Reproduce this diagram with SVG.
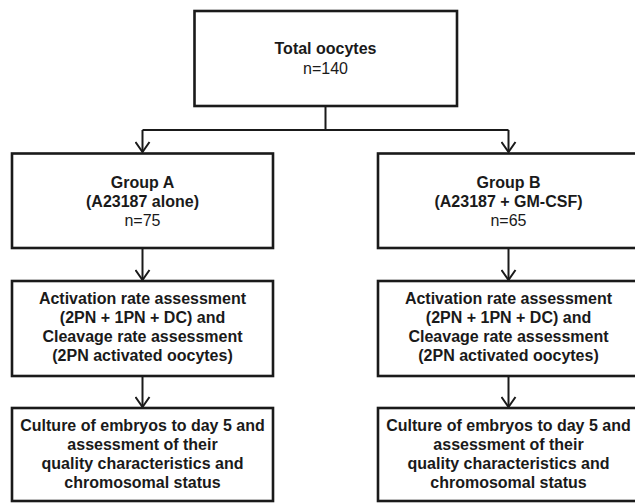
<svg xmlns="http://www.w3.org/2000/svg" width="635" height="503" viewBox="0 0 635 503">
<style>
.box{fill:#fff;stroke:#1a1a1a;stroke-width:2.6}
.t{font-family:"Liberation Sans",Arial,sans-serif;font-size:16px;font-weight:bold;fill:#1a1a1a;text-anchor:middle}
.n{font-weight:normal}
.c{fill:none;stroke:#1a1a1a;stroke-width:2}
</style>
<defs>
<marker id="arr" viewBox="0 0 12 16" refX="11" refY="8" markerWidth="12" markerHeight="16" markerUnits="userSpaceOnUse" orient="auto">
<path d="M1,1 L11,8 L1,15" fill="none" stroke="#1a1a1a" stroke-width="2"/>
</marker>
</defs>
<rect width="635" height="503" fill="#fff"/>
<g id="connectors">
<path class="c" d="M325.5,106 V130 M142.5,130 H508.5"/>
<path class="c" d="M142.5,130 V152" marker-end="url(#arr)"/>
<path class="c" d="M508.5,130 V152" marker-end="url(#arr)"/>
<path class="c" d="M142.5,248 V280" marker-end="url(#arr)"/>
<path class="c" d="M508.5,248 V280" marker-end="url(#arr)"/>
<path class="c" d="M142.5,376 V407" marker-end="url(#arr)"/>
<path class="c" d="M508.5,376 V407" marker-end="url(#arr)"/>
</g>
<g id="total">
<rect class="box" x="194.5" y="11" width="262.5" height="95"/>
<text class="t" x="325.5" y="54">Total oocytes</text>
<text class="t n" x="325.5" y="74">n=140</text>
</g>
<g id="groupA">
<rect class="box" x="12" y="153.5" width="261" height="94.5"/>
<text class="t" x="142.5" y="188">Group A</text>
<text class="t" x="142.5" y="207">(A23187 alone)</text>
<text class="t n" x="142.5" y="226">n=75</text>
</g>
<g id="groupB">
<rect class="box" x="378" y="153.5" width="261" height="94.5"/>
<text class="t" x="508.5" y="188">Group B</text>
<text class="t" x="508.5" y="207">(A23187 + GM-CSF)</text>
<text class="t n" x="508.5" y="226">n=65</text>
</g>
<g id="activationA">
<rect class="box" x="12" y="281" width="261" height="95"/>
<text class="t" x="142.5" y="304">Activation rate assessment</text>
<text class="t" x="142.5" y="323">(2PN + 1PN + DC) and</text>
<text class="t" x="142.5" y="342">Cleavage rate assessment</text>
<text class="t" x="142.5" y="361">(2PN activated oocytes)</text>
</g>
<g id="activationB">
<rect class="box" x="378" y="281" width="261" height="95"/>
<text class="t" x="508.5" y="304">Activation rate assessment</text>
<text class="t" x="508.5" y="323">(2PN + 1PN + DC) and</text>
<text class="t" x="508.5" y="342">Cleavage rate assessment</text>
<text class="t" x="508.5" y="361">(2PN activated oocytes)</text>
</g>
<g id="cultureA">
<rect class="box" x="12" y="408" width="261" height="93"/>
<text class="t" x="142.5" y="431">Culture of embryos to day 5 and</text>
<text class="t" x="142.5" y="450">assessment of their</text>
<text class="t" x="142.5" y="469">quality characteristics and</text>
<text class="t" x="142.5" y="488">chromosomal status</text>
</g>
<g id="cultureB">
<rect class="box" x="378" y="408" width="261" height="93"/>
<text class="t" x="508.5" y="431">Culture of embryos to day 5 and</text>
<text class="t" x="508.5" y="450">assessment of their</text>
<text class="t" x="508.5" y="469">quality characteristics and</text>
<text class="t" x="508.5" y="488">chromosomal status</text>
</g>
</svg>
